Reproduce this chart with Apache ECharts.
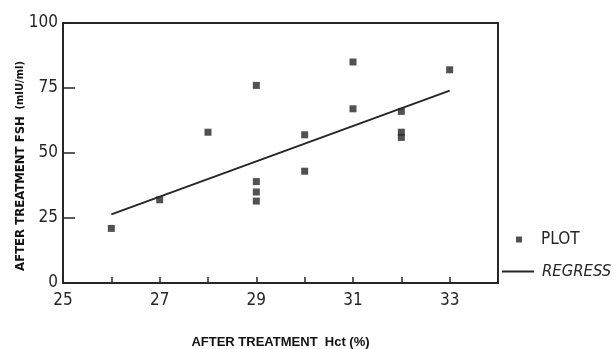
<!DOCTYPE html>
<html>
<head>
<meta charset="utf-8">
<script src="https://cdn.jsdelivr.net/npm/echarts@6/dist/echarts.min.js"></script>
<style>
  html, body { margin: 0; padding: 0; background: #fff; }
  #chart { width: 614px; height: 349px; }
</style>
</head>
<body>
<div id="chart"></div>
<script>
// 数据: after treatment Hct vs FSH
var hct = [26, 27, 28, 29, 29, 29, 29, 30, 30, 31, 31, 32, 32, 32, 33];
var fsh = [21, 32, 58, 76, 39, 35, 31.5, 57, 43, 85, 67, 66, 58, 56, 82];
// regression line end points
var regressHct = [26, 33];
var regressFsh = [26.4, 74];
var xTicks = [25, 27, 29, 31, 33];

var ink = '#262626';
var narrow = '"Liberation Sans Narrow", "DejaVu Sans Condensed", sans-serif';

var plotData = hct.map(function (v, i) { return [v, fsh[i]]; });
var lineData = regressHct.map(function (v, i) { return [v, regressFsh[i]]; });

var myChart = echarts.init(document.getElementById('chart'));
myChart.setOption({
  animation: false,
  backgroundColor: '#fff',
  grid: {
    left: 63, right: 116, top: 23, bottom: 66,
    outerBoundsMode: 'none',
    containLabel: false,
    show: true, borderColor: ink, borderWidth: 2
  },
  legend: [
    {
      data: [{ name: 'PLOT', icon: 'rect' }],
      left: 516, top: 231, padding: 0,
      itemWidth: 6, itemHeight: 6,
      selectedMode: false,
      textStyle: { fontFamily: narrow, fontSize: 17, color: ink, padding: [0, 0, 0, 14] }
    },
    {
      data: [{ name: 'REGRESS', icon: 'rect' }],
      left: 502, top: 263, padding: 0,
      itemWidth: 32, itemHeight: 2,
      selectedMode: false,
      textStyle: { fontFamily: narrow, fontSize: 16.5, fontStyle: 'italic', color: ink, padding: [0, 0, 0, 3] }
    }
  ],
  xAxis: {
    type: 'value',
    min: 25, max: 34, interval: 1,
    name: 'AFTER TREATMENT  Hct (%)',
    nameLocation: 'middle',
    nameGap: 53,
    nameMoveOverlap: false,
    nameTextStyle: { fontFamily: 'Liberation Sans, Arial, sans-serif', fontWeight: 'bold', fontSize: 13, color: '#111' },
    axisLine: { lineStyle: { color: ink, width: 2 } },
    axisTick: { inside: true, length: 6, lineStyle: { color: ink, width: 1.5 } },
    axisLabel: {
      margin: 9,
      fontFamily: narrow, fontSize: 17, color: ink,
      formatter: function (v) { return xTicks.indexOf(v) >= 0 ? String(v) : ''; }
    },
    splitLine: { show: false }
  },
  yAxis: {
    type: 'value',
    min: 0, max: 100, interval: 25,
    name: '{a|AFTER TREATMENT FSH}  {b|(mIU/ml)}',
    nameLocation: 'middle',
    nameGap: 36,
    nameMoveOverlap: false,
    nameTextStyle: {
      padding: [0, 26, 0, 0],
      rich: {
        a: { fontFamily: narrow, fontWeight: 'bold', fontSize: 13, color: '#111' },
        b: { fontFamily: narrow, fontWeight: 'bold', fontSize: 11, color: '#111' }
      }
    },
    axisLine: { lineStyle: { color: ink, width: 2 } },
    axisTick: { inside: true, length: 12, lineStyle: { color: ink, width: 1.5 } },
    axisLabel: { margin: 5, fontFamily: narrow, fontSize: 17, color: ink },
    splitLine: { show: false }
  },
  series: [
    {
      name: 'PLOT',
      type: 'scatter',
      symbol: 'rect',
      symbolSize: 7,
      itemStyle: { color: ink },
      data: plotData
    },
    {
      name: 'REGRESS',
      type: 'line',
      showSymbol: false,
      itemStyle: { color: ink },
      lineStyle: { color: ink, width: 2 },
      data: lineData
    }
  ]
});
</script>
</body>
</html>
